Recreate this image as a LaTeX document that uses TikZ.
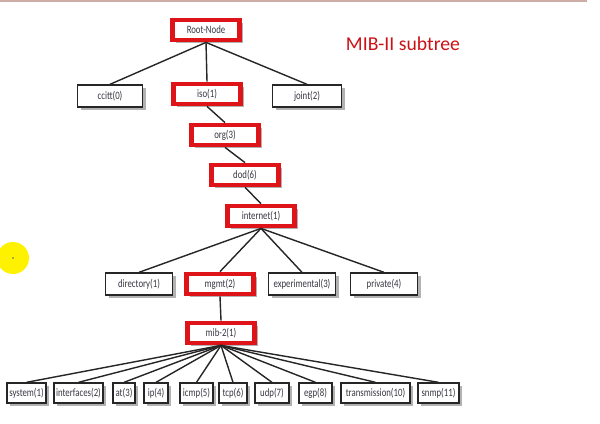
\documentclass[tikz,border=0pt]{standalone}
\usepackage{fontspec}
\newfontfamily\boxfont[FakeStretch=0.78]{Carlito}
\newfontfamily\titlefont{Carlito}
\usetikzlibrary{shadows}
\definecolor{frame}{RGB}{222,20,24}
\definecolor{label}{RGB}{55,55,65}
\definecolor{topline}{RGB}{205,172,166}
\tikzset{
    box/.style={draw=black!85, line width=0.95pt, fill=white, inner sep=0pt,
        minimum height=0.55cm, text=label, font=\boxfont\fontsize{8}{9}\selectfont,
        drop shadow={shadow xshift=0.08cm, shadow yshift=-0.08cm, fill=black, opacity=0.3}},
    hibox/.style={box, draw=frame, line width=3.4pt, minimum width=1.68cm, minimum height=0.5cm},
    leaf/.style={box, minimum height=0.5cm},
    edge/.style={draw=black!85, line width=1pt}
}
\begin{document}
\begin{tikzpicture}[x=0.025cm, y=-0.025cm]

            \useasboundingbox (0,0) rectangle (600,423);
            \fill[white] (0,0) rectangle (600,423);
            \draw[topline, line width=1.4pt] (0,1) -- (587,1);

            \fill[yellow] (13,258) circle [radius=16];
            \fill[black!60] (13,258) circle [radius=0.8];

            \node[font=\titlefont\fontsize{14}{16}\selectfont, text=frame!92!black, anchor=base west] (title) at (341,50) {MIB-II subtree};

            \node[hibox] (root) at (206,30) {Root-Node};

            \node[box, minimum width=1.62cm] (ccitt) at (110,96) {ccitt(0)};
            \node[hibox] (iso) at (207,94) {iso(1)};
            \node[box, minimum width=1.72cm] (joint) at (307,96) {joint(2)};

            \node[hibox] (org) at (225,135) {org(3)};
            \node[hibox] (dod) at (245,175) {dod(6)};
            \node[hibox] (internet) at (261,216) {internet(1)};

            \node[box, minimum width=1.68cm] (directory) at (139,284) {directory(1)};
            \node[hibox] (mgmt) at (220,284) {mgmt(2)};
            \node[box, minimum width=1.68cm] (experimental) at (302,284) {experimental(3)};
            \node[box, minimum width=1.68cm] (private) at (384,284) {private(4)};

            \node[hibox] (mib2) at (221,333) {mib-2(1)};

            \node[leaf, minimum width=0.97cm] (system) at (26.5,393) {system(1)};
            \node[leaf, minimum width=1.22cm] (interfaces) at (78.5,393) {interfaces(2)};
            \node[leaf, minimum width=0.55cm] (at) at (124,393) {at(3)};
            \node[leaf, minimum width=0.6cm] (ip) at (156,393) {ip(4)};
            \node[leaf, minimum width=0.82cm] (icmp) at (196.5,393) {icmp(5)};
            \node[leaf, minimum width=0.7cm] (tcp) at (233,393) {tcp(6)};
            \node[leaf, minimum width=0.85cm] (udp) at (272,393) {udp(7)};
            \node[leaf, minimum width=0.82cm] (egp) at (315.5,393) {egp(8)};
            \node[leaf, minimum width=1.72cm] (transmission) at (375.5,393) {transmission(10)};
            \node[leaf, minimum width=1.02cm] (snmp) at (438.5,393) {snmp(11)};


            \path[edge] (root.south) -- (ccitt.north);
            \path[edge] (root.south) -- (iso.north);
            \path[edge] (root.south) -- (joint.north);

            \path[edge] (iso.south) -- (org.north);
            \path[edge] (org.south) -- (dod.north);
            \path[edge] (dod.south) -- (internet.north);

            \path[edge] (internet.south) -- (directory.north);
            \path[edge] (internet.south) -- (mgmt.north);
            \path[edge] (internet.south) -- (experimental.north);
            \path[edge] (internet.south) -- (private.north);

            \path[edge] (mgmt.south) -- (mib2.north);

            \path[edge] (mib2.south) -- (system.north);
            \path[edge] (mib2.south) -- (interfaces.north);
            \path[edge] (mib2.south) -- (at.north);
            \path[edge] (mib2.south) -- (ip.north);
            \path[edge] (mib2.south) -- (icmp.north);
            \path[edge] (mib2.south) -- (tcp.north);
            \path[edge] (mib2.south) -- (udp.north);
            \path[edge] (mib2.south) -- (egp.north);
            \path[edge] (mib2.south) -- (transmission.north);
            \path[edge] (mib2.south) -- (snmp.north);

        \end{tikzpicture}
\end{document}
